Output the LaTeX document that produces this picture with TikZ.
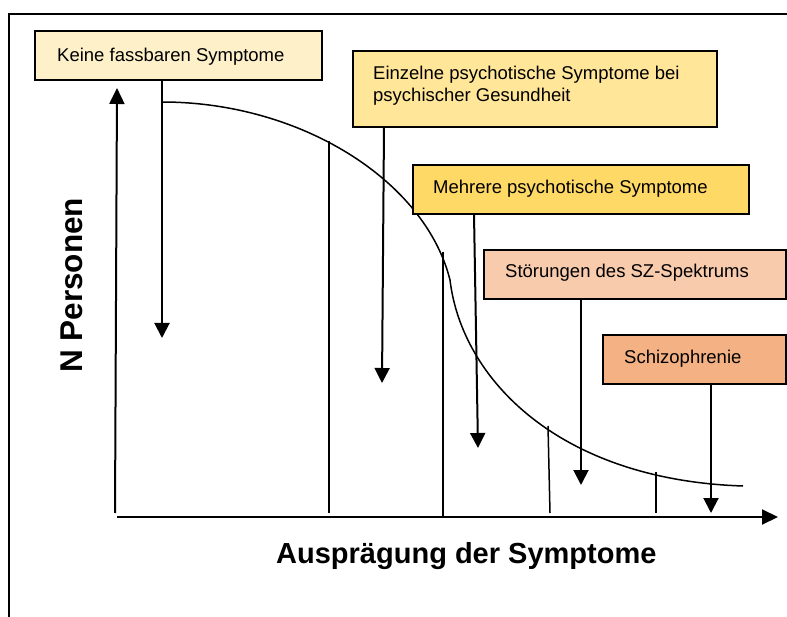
\documentclass[tikz,border=0pt]{standalone}
\usepackage{fontspec}
\setmainfont{Liberation Sans}
\usetikzlibrary{arrows.meta}
\definecolor{cA}{HTML}{FEF1CA}
\definecolor{cB}{HTML}{FFE699}
\definecolor{cC}{HTML}{FFD966}
\definecolor{cD}{HTML}{F8CBAD}
\definecolor{cE}{HTML}{F4B183}
\begin{document}
\begin{tikzpicture}[x=1pt,y=-1pt,
  box/.style={draw=black,line width=1.5pt,anchor=north west,inner sep=0pt,outer sep=0pt},
  lbl/.style={anchor=base west,inner sep=0pt,font=\fontsize{18.5}{21.5}\selectfont},
  axlbl/.style={anchor=base west,inner sep=0pt,font=\bfseries\fontsize{29}{33}\selectfont},
  arr/.style={line width=2pt,-{Triangle[length=15pt,width=15pt]}},
  axis/.style={line width=2pt,-{Triangle[length=16pt,width=15pt]}},
  thin/.style={line width=1.5pt},
  curve/.style={line width=1.5pt},
  frame/.style={line width=2pt}]
\useasboundingbox (0,0) rectangle (787,617);
% frame
\draw[frame] (9,617) -- (9,14) -- (787,14);
% axes
\coordinate (yb) at (115,513);
\coordinate (yt) at (117,88);
\coordinate (xl0) at (117,517);
\coordinate (xr) at (778,517);
\draw[axis] (yb) -- (yt);
\draw[axis] (xl0) -- (xr);
% curve
\draw[curve] (162,102) .. controls (300,102) and (425,180) .. (450,280)
   .. controls (462,380) and (560,480) .. (743,486);
% thin verticals
\draw[thin] (329,141) -- (329,513);
\draw[thin] (443,252) -- (443,517);
\draw[thin] (548,426) -- (550,513);
\draw[thin] (656,472) -- (656,513);
% boxes
\node[box,fill=cA,minimum width=287pt,minimum height=49pt] (b1) at (35,31) {};
\node[box,fill=cB,minimum width=364pt,minimum height=76pt] (b2) at (353,51) {};
\node[box,fill=cC,minimum width=336pt,minimum height=49pt] (b3) at (413,165) {};
\node[box,fill=cD,minimum width=302pt,minimum height=49pt] (b4) at (484,250) {};
\node[box,fill=cE,minimum width=183pt,minimum height=49pt] (b5) at (603,335) {};
% labels
\node[lbl] (t1) at (57,61.5) {Keine fassbaren Symptome};
\node[lbl] (t2a) at (373,80) {Einzelne psychotische Symptome bei};
\node[lbl] (t2b) at (373,101.5) {psychischer Gesundheit};
\node[lbl] (t3) at (433,194) {Mehrere psychotische Symptome};
\node[lbl] (t4) at (505,278) {Störungen des SZ-Spektrums};
\node[lbl] (t5) at (624,364) {Schizophrenie};
% arrow tips
\coordinate (p1) at (162,338);
\coordinate (p2) at (382,383);
\coordinate (p3) at (478,448);
\coordinate (p4) at (581,485);
\coordinate (p5) at (711,513);
\draw[arr] (b1.south west) ++(127,0) -- (p1);
\draw[arr] (b2.south west) ++(31,0) -- (p2);
\draw[arr] (b3.south west) ++(61,0) -- (p3);
\draw[arr] (b4.south west) ++(97,0) -- (p4);
\draw[arr] (b5.south west) ++(108,0) -- (p5);
% axis labels
\node[axlbl] (xlab) at (276,563) {Ausprägung der Symptome};
\node[axlbl,font=\bfseries\fontsize{31.5}{35}\selectfont,rotate=90] (ylab) at (82,373) {N Personen};
\end{tikzpicture}
\end{document}
